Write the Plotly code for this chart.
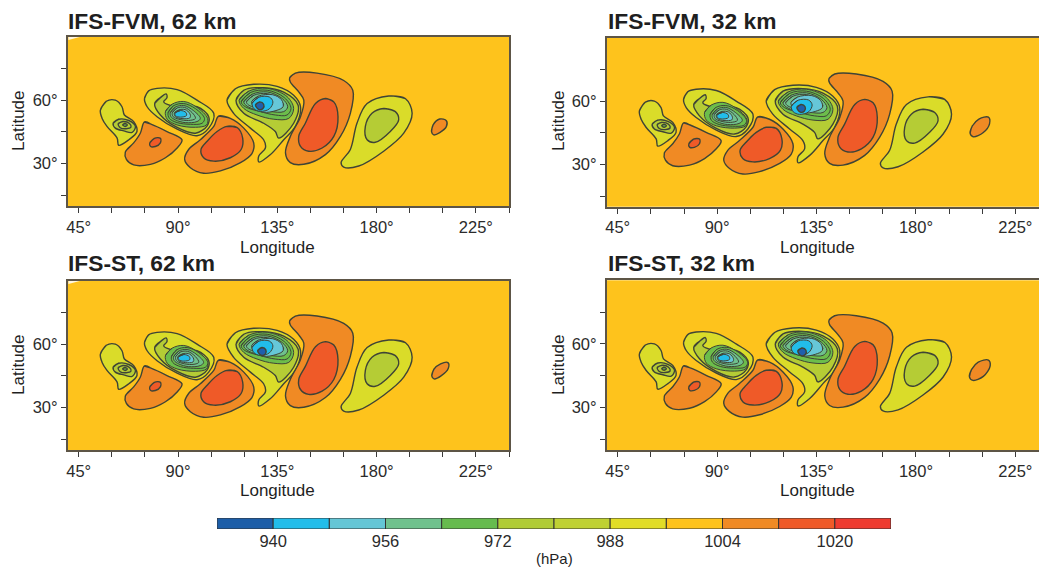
import plotly.graph_objects as go

# ---- contour outlines, lon / lat in degrees ----
A1_LON = [54.8,57.5,61.6,64.6,65.7,69.9,71.4,67.7,63.1,62.4,57.8,55.6]
A1_LAT = [55.3,59.5,60,56.9,53,49.9,45.2,41.3,38.7,42.1,47.6,51.4]
A2_LON = [60.6,63.1,67.7,70.7,69.2,65.4,61.6]
A2_LAT = [49.1,51,50.4,47.6,44.8,45.5,46.8]
A3_LON = [62.9,65,68,68.7,66.5,63.8]
A3_LAT = [48.9,49.9,49,47.3,46.5,47]
A4_LON = [64.9,66,67,66]
A4_LAT = [48.4,49,48.3,47.6]
B1_LON = [74.8,77.5,85,91.8,89.6,84.3,77.5,69.9,66.6,66.1,69.9,72.9]
B1_LAT = [49.7,48.8,45.2,41.3,37.4,32.8,29.7,29.4,32,35.4,39.8,44.4]
B2_LON = [77.2,79.3,82,82,79.7,77.5]
B2_LAT = [39.8,42,42,39.8,38.1,38.2]
C1_LON = [108.4,113.7,119.8,124.3,123.5,118.3,109.2,101.6,95.6,93,94.8,100.1,106.2]
C1_LAT = [52.5,51.4,46.8,39.8,34.8,30.5,26.6,25.5,28.1,32,36.7,41.3,47.6]
C2_LON = [112.2,116.8,119.3,118.6,113.7,106.2,101.6,100.4,103.2,107.7]
C2_LAT = [47.6,47.1,42.1,36.7,32.8,31.2,32.8,36.7,40.6,45.2]
D1_LON = [74.8,76.7,80.5,89.6,98.6,106.2,103.9,98.6,89.6,80.5,76]
D1_LAT = [60.8,64.4,65.6,65,60,53.8,46.8,43.2,46.3,52.2,56.9]
D2_LON = [79.4,82,84.6,85,83.5,88,98.6,103.9,103.2,97.9,89.6,82]
D2_LAT = [58.4,61.2,63,61.2,59.2,57.2,56.9,52.2,47.9,44.4,47.1,53]
D3_LON = [84.3,87.3,92.6,98.6,103.4,102.9,97.9,89.6,85.1]
D3_LAT = [54.6,58.1,59.4,56.6,51.4,48.3,47.2,48.3,51]
D4_LON = [85.5,88,92.6,97.9,102,100.9,95.6,89.6,86.1]
D4_LAT = [54.1,57.4,58.4,56,51.4,49.1,48.6,49.4,51.4]
D5_LON = [86.5,88.8,92.6,97.1,100.1,98.6,93.3,88.8,86.8]
D5_LAT = [54.1,56.7,57.5,55,51.4,49.9,49.4,50.7,52.2]
D6_LON = [87.4,89.6,92.9,96.4,97.9,94.8,90.3,87.8]
D6_LAT = [54.1,56.3,56.6,54.1,51.4,50.4,51,52.2]
D7_LON = [88.4,91.1,93.8,95.6,95.3,91.8,88.8]
D7_LAT = [54.1,55.6,55.3,53,51.6,51.3,52.2]
D8_LON = [88.6,91.1,93.6,93.8,91.1,88.9]
D8_LAT = [53.9,55.1,54.2,52.7,52,52.6]
E1_LON = [112.2,116,124.3,134.9,142.4,145.5,143.2,137.9,131.9,126.6,126.6,129.6,128.8,122.8,115.2]
E1_LAT = [60,65.4,67.5,66.5,62.3,56.9,47.6,41.3,34.3,30.8,33.6,37.4,41.3,46.8,53.8]
E2_LON = [116.3,119.8,128.8,137.9,144.4,142.4,135.6,134.1,128.8,119.8]
E2_LAT = [60,64.7,65.9,63.8,57.7,49.1,42.1,45.2,49.1,53.8]
E3_LON = [117.7,122.1,130.4,139.4,142.4,140.2,133.4,125.8,119.8]
E3_LAT = [60,64.3,65.6,61.7,56.1,51.4,51,53,56.1]
E4_LON = [118.6,122.8,130.4,138.2,141.2,139.4,134.1,127.3,120.5]
E4_LAT = [59.2,63.6,64.7,61.2,56.1,53,53,54.6,56.9]
E5_LON = [119.8,123.6,130.4,137.2,139.7,137.9,131.9,125.8,121.3]
E5_LAT = [59.2,62.8,63.9,60.8,56.9,54.6,54.6,55.3,57.2]
E6_LON = [121,124.3,130.4,135.7,137.9,135.7,130.4,125.1,122]
E6_LAT = [59.2,62.3,63.1,60.5,57.7,56.1,56.1,56.6,57.7]
E7_LON = [123.4,126.4,132.8,136.9,137.6,134.4,128.8,124.8]
E7_LAT = [59.4,61.9,62.6,60.2,56.9,55.1,54.3,56.1]
E8_LON = [123.6,126.6,131.4,133,131.4,127.3,124.4]
E8_LAT = [58.6,61.4,61.5,59.2,55.9,54.7,56]
E9_LON = [125.1,127,128.8,128.5,126.6]
E9_LAT = [57.8,59.2,58.1,56.1,55.6]
F1_LON = [140.6,143.2,153,165.1,169.2,168.1,163.6,156.8,147,140.9,138.7,140.9,145.5,147,144.7,140.9]
F1_LAT = [70.6,72.8,72.8,69.3,64.7,53.8,42.9,34.3,29.7,30.5,35.1,42.9,52.2,60,63.9,68.6]
F2_LON = [156.8,160.6,162.5,160.6,155.3,149.2,145.5,144.7,147.7,152.3]
F2_LAT = [60.8,59.2,52.2,42.9,37.4,35.9,38.2,42.9,49.1,58.4]
G1_LON = [185.5,193,196.1,192.3,183.2,171.9,165.1,163.9,168.1,171.1,175.7]
G1_LAT = [62,60.8,53.8,44.4,35.9,28.9,28.4,30.5,36.7,49.1,58.4]
G2_LON = [183.2,188.5,190,186.2,179.4,175.7,174.9,177.9]
G2_LAT = [56.1,54.6,50.7,45.2,40.1,41.3,47.6,53.8]
H_LON = [[204.9,205.6,208.6,211.6,211.6,208.6,205.9],[204.5,205.5,208.5,212.8,213.3,210.5,205.9],
         [205,206,209,212.3,212.5,209.2,206],[204.2,205.2,208.2,212.8,213.6,210.5,205.8]]
H_LAT = [[45.2,48.3,51.1,50.3,47.5,44.7,43.6],[44.8,48.2,51.5,52.4,49.2,45.1,43.1],
         [45,48.2,50.7,51.3,48.6,45,43.6],[44.5,48,51.4,52.4,49.7,44.7,42.8]]
SLIVER_LON = [40.3,45.5,40.3]
SLIVER_LAT = [89.8,89.8,88.4]

PANEL_TITLES = ["IFS-FVM, 62 km", "IFS-FVM, 32 km", "IFS-ST, 62 km", "IFS-ST, 32 km"]
LON_TICKS = [45,60,75,90,105,120,135,150,165,180,195,210,225,240]
LAT_TICKS = [15,30,45,60,75]
LEVEL_EDGES = [932,940,948,956,964,972,980,988,996,1004,1012,1020,1028]
LEVEL_COLORS = ["#1d5ea8","#22bdea","#64c6d6","#6fc18d","#66bb4e","#b0cc36","#bfd133",
                "#e1dd27","#fec31c","#f08a24","#ef5a28","#ee3b30"]
LEVEL_LABELS = [940,956,972,988,1004,1020]

BG, ORANGE, RED = "#fec31c", "#f08a24", "#ef5a28"
YEL, YG, GRN, TEAL, LBLUE, BLUE, DBLUE = "#dadc29", "#b5cc35", "#6cbd4b", "#6fc18d", "#66c7d8", "#22bdea", "#1f5fad"
LINE = "#3f4436"

CONTOURS = [
 ("A1",A1_LON,A1_LAT,YEL),("A2",A2_LON,A2_LAT,YG),("A3",A3_LON,A3_LAT,YG),("A4",A4_LON,A4_LAT,GRN),
 ("B1",B1_LON,B1_LAT,ORANGE),("B2",B2_LON,B2_LAT,RED),
 ("C1",C1_LON,C1_LAT,ORANGE),("C2",C2_LON,C2_LAT,RED),
 ("D1",D1_LON,D1_LAT,YEL),("D2",D2_LON,D2_LAT,YG),("D3",D3_LON,D3_LAT,GRN),("D4",D4_LON,D4_LAT,GRN),
 ("D5",D5_LON,D5_LAT,TEAL),("D6",D6_LON,D6_LAT,TEAL),("D7",D7_LON,D7_LAT,LBLUE),("D8",D8_LON,D8_LAT,BLUE),
 ("E1",E1_LON,E1_LAT,YEL),("E2",E2_LON,E2_LAT,YG),("E3",E3_LON,E3_LAT,GRN),("E4",E4_LON,E4_LAT,GRN),
 ("E5",E5_LON,E5_LAT,TEAL),("E6",E6_LON,E6_LAT,TEAL),("E7",E7_LON,E7_LAT,LBLUE),("E8",E8_LON,E8_LAT,BLUE),("E9",E9_LON,E9_LAT,DBLUE),
 ("F1",F1_LON,F1_LAT,ORANGE),("F2",F2_LON,F2_LAT,RED),
 ("G1",G1_LON,G1_LAT,YEL),("G2",G2_LON,G2_LAT,YG),
]
THIN = {"D3","D4","D5","D6","D7","D8","E3","E4","E5","E6","E7","E8"}
D_GROUP = ["D4","D5","D6","D7","D8"]
SHIFTS = [
 {},
 {**{k:(1.3,-0.5) for k in D_GROUP},"E8":(0,-1),"E9":(1,-0.8)},
 {**{k:(1.5,0) for k in D_GROUP},"E9":(1,-0.8),"F1":(0,0.5),"F2":(0,0.4)},
 {**{k:(1.8,0) for k in D_GROUP},"E9":(1.4,-1.1),"F1":(0,0.5),"F2":(0,0.4)},
]

W, H = 1039, 569
PANELS = [(67.7,509,36.7,206,240),(606.7,1039,37.7,206.7,235.7),
          (67.7,509,280.7,450,240),(606.7,1039,280.3,450,235.7)]
FONT = "Liberation Sans"
INK = "#2b2b2b"

fig = go.Figure()
for i,(x0,x1,y0,y1,lon_max) in enumerate(PANELS):
    n = i+1
    xa, ya = ("x%d"%n if n>1 else "x"), ("y%d"%n if n>1 else "y")
    for name,lo,la,col in CONTOURS:
        dx,dy = SHIFTS[i].get(name,(0,0))
        xs = [v+dx for v in lo]; ys = [v+dy for v in la]
        fig.add_trace(go.Scatter(x=xs+xs[:2], y=ys+ys[:2], mode="lines", fill="toself", fillcolor=col,
            line=dict(color=LINE,width=(1.0 if name in THIN else 1.4),shape="spline",smoothing=1), xaxis=xa, yaxis=ya,
            showlegend=False, hoverinfo="skip"))
    xs, ys = H_LON[i], H_LAT[i]
    fig.add_trace(go.Scatter(x=xs+xs[:2], y=ys+ys[:2], mode="lines", fill="toself", fillcolor=ORANGE,
        line=dict(color=LINE,width=1.4,shape="spline",smoothing=1), xaxis=xa, yaxis=ya,
        showlegend=False, hoverinfo="skip"))
    if i in (0,2):
        fig.add_trace(go.Scatter(x=SLIVER_LON, y=SLIVER_LAT, mode="lines", fill="toself", fillcolor="#fff6e0",
            line=dict(width=0), xaxis=xa, yaxis=ya, showlegend=False, hoverinfo="skip"))
    axis_common = dict(showgrid=False, zeroline=False, showline=True, linecolor="#5d5546", linewidth=1.6,
                       ticks="outside", ticklen=5, tickwidth=1.4, tickcolor="#3a3a3a",
                       tickfont=dict(family=FONT,size=16.5,color=INK))
    fig.update_layout({
        ("xaxis%d"%n if n>1 else "xaxis"): dict(axis_common, domain=[x0/W,x1/W], range=[40,lon_max], anchor=ya,
            mirror=True, tickmode="array", tickvals=LON_TICKS,
            ticktext=[("%d°"%v if v%45==0 else "") for v in LON_TICKS]),
        ("yaxis%d"%n if n>1 else "yaxis"): dict(axis_common, domain=[1-y1/H,1-y0/H], range=[10,90], anchor=xa,
            mirror=(i%2==0), tickmode="array", tickvals=LAT_TICKS,
            ticktext=[("%d°"%v if v%30==0 else "") for v in LAT_TICKS]),
    })

# colour scale
fig.add_trace(go.Bar(y=[0]*len(LEVEL_COLORS), x=[b-a for a,b in zip(LEVEL_EDGES,LEVEL_EDGES[1:])], base=LEVEL_EDGES[:-1],
    orientation="h", width=1, marker=dict(color=LEVEL_COLORS,line=dict(color="#333",width=1)),
    xaxis="x5", yaxis="y5", showlegend=False, hoverinfo="skip"))
fig.update_layout(
    xaxis5=dict(domain=[217/W,891/W], range=[932,1028], anchor="y5", tickmode="array", tickvals=LEVEL_LABELS,
                ticks="", showgrid=False, zeroline=False, tickfont=dict(family=FONT,size=16.5,color=INK)),
    yaxis5=dict(domain=[1-529/H,1-518/H], range=[-0.5,0.5], anchor="x5", visible=False),
)

def note(px,py,text,size,bold=False,anchor="center",angle=0):
    fig.add_annotation(x=px/W,y=1-py/H,xref="paper",yref="paper",text=("<b>%s</b>"%text if bold else text),
        showarrow=False,xanchor=anchor,yanchor="middle",textangle=angle,
        font=dict(family=FONT,size=size,color="#1f1f1f"))

for (px,py),t in zip([(66,21),(606,21),(66,263),(606,263)],PANEL_TITLES):
    note(px,py,t,22.8,True,"left")
for px,py in [(277,247),(817,247),(277,490),(817,490)]:
    note(px,py,"Longitude",17)
for px,py in [(18,121),(558,121),(18,365),(558,365)]:
    note(px,py,"Latitude",17,angle=-90)
note(554,558,"(hPa)",15)

fig.update_layout(width=W,height=H,margin=dict(l=0,r=0,t=0,b=0),paper_bgcolor="white",plot_bgcolor=BG,
                  showlegend=False,barmode="overlay")
fig.write_html("out.html", post_script="document.body.style.margin='0';", config={"displayModeBar":False})
